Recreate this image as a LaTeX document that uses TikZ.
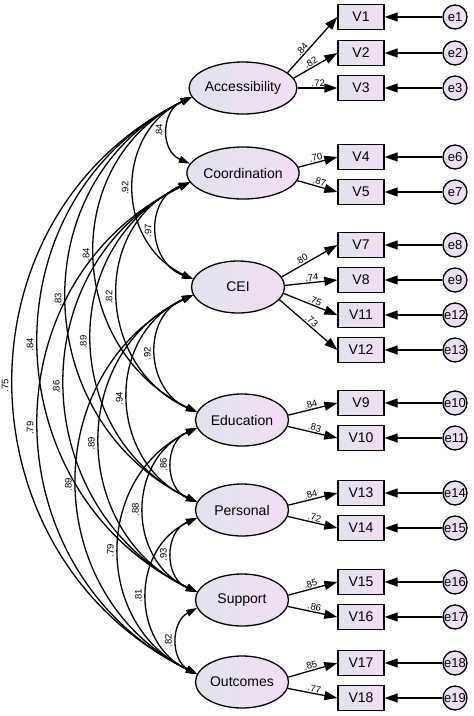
\documentclass[tikz,border=0pt]{standalone}
\usepackage{fontspec}
\setmainfont{Liberation Sans}
\usetikzlibrary{arrows.meta,shapes.geometric}
\definecolor{shadeL}{RGB}{226,226,238}
\definecolor{shadeR}{RGB}{242,222,244}

\begin{document}
\begin{tikzpicture}[x=1pt, y=-1pt, line width=1.3pt,
  latent/.style={ellipse, draw, left color=shadeL, right color=shadeR, minimum width=93pt, minimum height=52pt, inner sep=0pt, font=\fontsize{14}{16}\selectfont},
  obs/.style={rectangle, draw, left color=shadeL, right color=shadeR, minimum width=46pt, minimum height=25pt, inner sep=0pt, font=\fontsize{14}{16}\selectfont},
  err/.style={circle, draw, left color=shadeL, right color=shadeR, minimum size=24pt, inner sep=0pt, font=\fontsize{13}{15}\selectfont},
  load/.style={-{Triangle[length=13pt,width=9pt]}},
  cov/.style={{Triangle[length=11pt,width=7pt]}-{Triangle[length=11pt,width=7pt]}},
  coef/.style={font=\fontsize{9.5}{11}\selectfont, inner sep=1pt, sloped, above},
  covlbl/.style={font=\fontsize{9.5}{11}\selectfont, midway, rotate=90, anchor=south, inner sep=5pt},
]
  \useasboundingbox (0,0) rectangle (474,716);
  \node[latent] (acc) at (243,88) {Accessibility};
  \node[latent] (coord) at (243,173) {Coordination};
  \node[latent] (cei) at (238,287) {CEI};
  \node[latent] (edu) at (242,420) {Education};
  \node[latent] (pers) at (242,510) {Personal};
  \node[latent] (supp) at (242,600) {Support};
  \node[latent] (outc) at (242,682) {Outcomes};
  \node[obs] (v1) at (361,17) {V1};
  \node[obs] (v2) at (361,53) {V2};
  \node[obs] (v3) at (361,88) {V3};
  \node[obs] (v4) at (361,157) {V4};
  \node[obs] (v5) at (361,192) {V5};
  \node[obs] (v7) at (361,245) {V7};
  \node[obs] (v8) at (361,280) {V8};
  \node[obs] (v11) at (361,315) {V11};
  \node[obs] (v12) at (361,350) {V12};
  \node[obs] (v9) at (361,403) {V9};
  \node[obs] (v10) at (361,438) {V10};
  \node[obs] (v13) at (361,493) {V13};
  \node[obs] (v14) at (361,528) {V14};
  \node[obs] (v15) at (361,582) {V15};
  \node[obs] (v16) at (361,617) {V16};
  \node[obs] (v17) at (361,663) {V17};
  \node[obs] (v18) at (361,698) {V18};
  \node[err] (e1) at (455,17) {e1};
  \node[err] (e2) at (455,53) {e2};
  \node[err] (e3) at (455,88) {e3};
  \node[err] (e6) at (455,157) {e6};
  \node[err] (e7) at (455,192) {e7};
  \node[err] (e8) at (455,245) {e8};
  \node[err] (e9) at (455,280) {e9};
  \node[err] (e12) at (455,315) {e12};
  \node[err] (e13) at (455,350) {e13};
  \node[err] (e10) at (455,403) {e10};
  \node[err] (e11) at (455,438) {e11};
  \node[err] (e14) at (455,493) {e14};
  \node[err] (e15) at (455,528) {e15};
  \node[err] (e16) at (455,582) {e16};
  \node[err] (e17) at (455,617) {e17};
  \node[err] (e18) at (455,663) {e18};
  \node[err] (e19) at (455,698) {e19};
  \draw[load] (acc.19) -- node[coef, pos=0.36] {.84} (v1.west);
  \draw[load] (acc.11) -- node[coef, pos=0.45] {.82} (v2.west);
  \draw[load] (acc.east) -- node[coef, pos=0.52] {.72} (v3.west);
  \draw[load] (coord.6) -- node[coef, pos=0.48] {.70} (v4.west);
  \draw[load] (coord.-8) -- node[coef, pos=0.52] {.87} (v5.west);
  \draw[load] (cei.13) -- node[coef, pos=0.4] {.80} (v7.west);
  \draw[load] (cei.2) -- node[coef, pos=0.52] {.74} (v8.west);
  \draw[load] (cei.-8) -- node[coef, pos=0.55] {.75} (v11.west);
  \draw[load] (cei.-17) -- node[coef, pos=0.5] {.73} (v12.west);
  \draw[load] (edu.6) -- node[coef, pos=0.48] {.84} (v9.west);
  \draw[load] (edu.-8) -- node[coef, pos=0.52] {.83} (v10.west);
  \draw[load] (pers.6) -- node[coef, pos=0.48] {.84} (v13.west);
  \draw[load] (pers.-8) -- node[coef, pos=0.52] {.72} (v14.west);
  \draw[load] (supp.6) -- node[coef, pos=0.48] {.85} (v15.west);
  \draw[load] (supp.-8) -- node[coef, pos=0.52] {.86} (v16.west);
  \draw[load] (outc.6) -- node[coef, pos=0.48] {.85} (v17.west);
  \draw[load] (outc.-8) -- node[coef, pos=0.52] {.77} (v18.west);
  \foreach \e/\v in {e1/v1, e2/v2, e3/v3, e6/v4, e7/v5, e8/v7, e9/v8, e12/v11, e13/v12,
                     e10/v9, e11/v10, e14/v13, e15/v14, e16/v15, e17/v16, e18/v17, e19/v18}
    \draw[load] (\e) -- (\v);
  \draw[cov] (acc.190) .. controls +(-30.3,13.2) and +(-30.3,-13.2) .. node[covlbl] {.84} (coord.170);
  \draw[cov] (acc.190) .. controls +(-77.6,36.5) and +(-77.6,-36.5) .. node[covlbl] {.92} (cei.170);
  \draw[cov] (coord.190) .. controls +(-45.6,17.0) and +(-45.6,-17.0) .. node[covlbl] {.97} (cei.170);
  \draw[cov] (acc.190) .. controls +(-132.3,64.0) and +(-132.3,-64.0) .. node[covlbl] {.84} (edu.170);
  \draw[cov] (acc.190) .. controls +(-169.6,82.4) and +(-169.6,-82.4) .. node[covlbl] {.83} (pers.170);
  \draw[cov] (coord.190) .. controls +(-100.3,44.5) and +(-100.3,-44.5) .. node[covlbl] {.82} (edu.170);
  \draw[cov] (acc.190) .. controls +(-206.9,100.8) and +(-206.9,-100.8) .. node[covlbl] {.84} (supp.170);
  \draw[cov] (coord.190) .. controls +(-134.9,64.6) and +(-134.9,-64.6) .. node[covlbl] {.89} (pers.170);
  \draw[cov] (cei.190) .. controls +(-51.6,22.1) and +(-51.6,-22.1) .. node[covlbl] {.92} (edu.170);
  \draw[cov] (acc.190) .. controls +(-240.3,118.0) and +(-240.3,-118.0) .. node[covlbl] {.75} (outc.170);
  \draw[cov] (coord.190) .. controls +(-170.9,83.9) and +(-170.9,-83.9) .. node[covlbl] {.86} (supp.170);
  \draw[cov] (cei.190) .. controls +(-88.9,40.6) and +(-88.9,-40.6) .. node[covlbl] {.94} (pers.170);
  \draw[cov] (coord.190) .. controls +(-205.6,100.2) and +(-205.6,-100.2) .. node[covlbl] {.79} (outc.170);
  \draw[cov] (cei.190) .. controls +(-126.3,58.9) and +(-126.3,-58.9) .. node[covlbl] {.89} (supp.170);
  \draw[cov] (edu.190) .. controls +(-32.9,13.9) and +(-32.9,-13.9) .. node[covlbl] {.86} (pers.170);
  \draw[cov] (cei.190) .. controls +(-156.9,77.9) and +(-156.9,-77.9) .. node[covlbl] {.89} (outc.170);
  \draw[cov] (edu.190) .. controls +(-70.3,32.3) and +(-70.3,-32.3) .. node[covlbl] {.88} (supp.170);
  \draw[cov] (edu.190) .. controls +(-103.6,49.4) and +(-103.6,-49.4) .. node[covlbl] {.79} (outc.170);
  \draw[cov] (pers.190) .. controls +(-32.9,13.9) and +(-32.9,-13.9) .. node[covlbl] {.93} (supp.170);
  \draw[cov] (pers.190) .. controls +(-66.3,31.1) and +(-66.3,-31.1) .. node[covlbl] {.81} (outc.170);
  \draw[cov] (supp.190) .. controls +(-26.3,14.3) and +(-26.3,-14.3) .. node[covlbl] {.82} (outc.170);
\end{tikzpicture}
\end{document}
